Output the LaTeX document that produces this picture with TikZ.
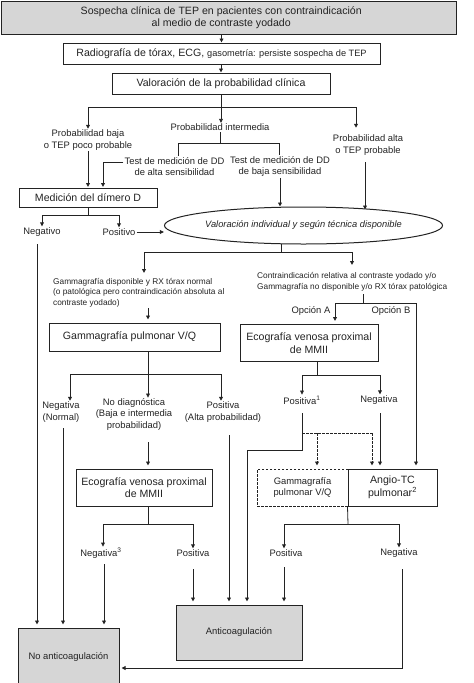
\documentclass[tikz,border=0pt]{standalone}
\usepackage{fontspec}
\setmainfont{Liberation Sans}
\usetikzlibrary{arrows.meta,shapes.geometric,calc}
\definecolor{boxgray}{RGB}{214,214,214}
\definecolor{linec}{RGB}{35,35,35}
\newcommand{\boxfont}{\fontsize{10.6}{12.6}\selectfont}
\newcommand{\lblfont}{\fontsize{9.4}{11.3}\selectfont}
\newcommand{\smallfnt}{\fontsize{8.3}{10.4}\selectfont}
\begin{document}
\begin{tikzpicture}[x=1pt,y=-1pt,
  every node/.style={text=linec},
  boxnode/.style={draw=linec,line width=1pt,align=center,font=\boxfont,inner sep=1pt},
  graybox/.style={boxnode,fill=boxgray},
  lbl/.style={align=center,font=\lblfont,inner sep=1pt},
  smalltxt/.style={align=left,font=\smallfnt,inner sep=2pt,anchor=north west},
  ln/.style={draw=linec,line width=0.8pt},
  arr/.style={ln,-{Triangle[length=4pt,width=3.8pt]}},
  arrbox/.style={arr,shorten >=3pt},
  darr/.style={arrbox,dashed,dash pattern=on 2.5pt off 1.5pt},
  dln/.style={ln,dashed,dash pattern=on 2.5pt off 1.5pt}]
\useasboundingbox (0,0) rectangle (474,683);

% boxes
\node[graybox,minimum width=455pt,minimum height=32.5pt] (top) at (228.75,17.75)
  {Sospecha clínica de TEP en pacientes con contraindicación\hspace*{15pt}\\al medio de contraste yodado\hspace*{15pt}};
\node[boxnode,minimum width=317pt,minimum height=21pt] (rad) at (221.5,53.5)
  {Radiografía de tórax, ECG, {\fontsize{9.2}{11}\selectfont gasometría: persiste sospecha de TEP}};
\node[boxnode,minimum width=218pt,minimum height=21pt] (val) at (221,83.5)
  {Valoración de la probabilidad clínica};

% probability labels
\node[lbl] (pb) at (88,140) {Probabilidad baja\\o TEP poco probable};
\node[lbl] (pi) at (220,127.5) {Probabilidad intermedia};
\node[lbl] (pa) at (368,145) {Probabilidad alta\\o TEP probable};
\node[lbl] (tda) at (174.5,166.5) {Test de medición de DD\\de alta sensibilidad};
\node[lbl] (tdb) at (280,166.5) {Test de medición de DD\\de baja sensibilidad};

\node[boxnode,minimum width=138pt,minimum height=19pt] (med) at (88,198) {Medición del dímero D};
\node[lbl] (neg1) at (42,232) {Negativo};
\node[lbl] (pos1) at (119,232) {Positivo};
\node[draw=linec,line width=1pt,ellipse,minimum width=237pt,minimum height=37pt,inner sep=0pt,
  font=\fontsize{9.3}{11}\selectfont\itshape] (ell) at (303.5,225.5)
  {Valoración individual y según técnica disponible};

% technique texts
\node[smalltxt] (gl) at (51,276)
  {Gammagrafía disponible y RX tórax normal\\(o patológica pero contraindicación absoluta al\\contraste yodado)};
\node[smalltxt] (gr) at (255,270.5)
  {Contraindicación relativa al contraste yodado y/o\\Gammagrafía no disponible y/o RX tórax patológica};
\node[lbl] (optA) at (311,311) {Opción A};
\node[lbl] (optB) at (391,311) {Opción B};

\node[boxnode,minimum width=171pt,minimum height=28pt] (gam) at (134.5,337)
  {Gammagrafía pulmonar V/Q\hspace*{10pt}};
\node[boxnode,minimum width=138pt,minimum height=37pt] (ecoR) at (309,343)
  {Ecografía venosa proximal\\de MMII};

\node[lbl] (negN) at (61,412) {Negativa\\(Normal)};
\node[lbl] (nod) at (134,414.5) {No diagnóstica\\(Baja e intermedia\\probabilidad)};
\node[lbl] (posA) at (223,412) {Positiva\\(Alta probabilidad)};
\node[lbl] (pos1R) at (302,400) {Positiva\textsuperscript{1}};
\node[lbl] (negR) at (379,400) {Negativa};

\node[boxnode,minimum width=136pt,minimum height=37pt] (ecoL) at (144,487.5)
  {Ecografía venosa proximal\\de MMII};
\node[boxnode,dashed,dash pattern=on 2.5pt off 1.5pt,minimum width=91pt,minimum height=37pt,font=\lblfont] (gpd) at (302.5,487.5)
  {Gammagrafía\\pulmonar V/Q};
\node[boxnode,minimum width=89pt,minimum height=37pt] (angio) at (392.5,487.5)
  {Angio-TC\\pulmonar\textsuperscript{2}};

\node[lbl] (neg3) at (101,553) {Negativa\textsuperscript{3}};
\node[lbl] (posL) at (193,553) {Positiva};
\node[lbl] (posR) at (286,553) {Positiva};
\node[lbl] (negR2) at (399,553) {Negativa};

\node[graybox,minimum width=126pt,minimum height=55pt,font=\lblfont] (anti) at (239,632.5) {Anticoagulación};
\node[graybox,minimum width=101pt,minimum height=58pt,font=\lblfont] (noac) at (68.5,657) {No anticoagulación};

% coordinates
\coordinate (jL) at (88,107);
\coordinate (jR) at (356,107);
\coordinate (bi) at (220,143);
\coordinate (bL) at (178,143);
\coordinate (bR) at (279,143);
\coordinate (t1) at (103,162);
\coordinate (jm) at (88,215);
\coordinate (n1) at (37,244);
\coordinate (pa1) at (365,162);
\coordinate (pa2) at (365,209.5);
\coordinate (e1) at (281,243.7);
\coordinate (je) at (281,252);
\coordinate (ga) at (144,273);
\coordinate (gb) at (352,265);
\coordinate (g1) at (148,308);
\coordinate (r1) at (363,294);
\coordinate (jr) at (363,303);
\coordinate (jA) at (335,303);
\coordinate (jB) at (416,303);
\coordinate (jg) at (148,374);
\coordinate (jg1) at (70,374);
\coordinate (jg3) at (221,374);
\coordinate (je2) at (317,375);
\coordinate (je2a) at (302,375);
\coordinate (je2b) at (380,375);
\coordinate (nn) at (63,428);
\coordinate (nd) at (148,442);
\coordinate (pA) at (229,435);
\coordinate (p1a) at (302,413);
\coordinate (p1b) at (302,433);
\coordinate (p1c) at (302,450);
\coordinate (p1d) at (247,450);
\coordinate (d1) at (317,433);
\coordinate (d2) at (372,433);
\coordinate (nr) at (380,413);
\coordinate (jl) at (148,524);
\coordinate (jl1) at (103,524);
\coordinate (jl2) at (193,524);
\coordinate (n3) at (104,564);
\coordinate (pl) at (193,569);
\coordinate (ja) at (348,524);
\coordinate (ja1) at (284,524);
\coordinate (ja2) at (399,524);
\coordinate (pr) at (284,567);
\coordinate (q1) at (402,569);
\coordinate (q2) at (402,668);

% connectors
\draw[arr] (top.south -| rad.north) -- (rad.north);
\draw[arr] (rad.south -| val.north) -- (val.north);
\draw[arr] (val.south) -- (val.south |- pi.north);
\draw[ln] (jL) -- (jR);
\draw[arr] (jL) -- (jL |- pb.north);
\draw[arr,shorten >=6pt] (jR) -- (jR |- pa.north);
\draw[ln] (pi.south) -- (bi);
\draw[ln] (bL |- tda.north) -- (bL) -- (bR) -- (bR |- tdb.north);
\draw[arr,shorten >=1pt] (tda.west |- t1) -- (t1) -- (t1 |- med.north);
\draw[arr,shorten >=1pt] (pb.south) -- (pb.south |- med.north);
\draw[arr] (tdb.south) -- (tdb.south |- ell.north);
\draw[arr] (pa1) -- (pa2);
\draw[ln] (med.south) -- (jm);
\draw[arr] (jm) -| (neg1.north);
\draw[arr] (jm) -| (pos1.north);
\draw[arr] (pos1.east) -- (pos1.east -| ell.west);
\draw[arrbox] (n1) -- (n1 |- noac.north);
\draw[ln] (e1) -- (je);
\draw[arr] (je) -| (ga);
\draw[arr] (je) -| (gb);
\draw[arrbox] (g1) -- (g1 |- gam.north);
\draw[ln] (r1) -- (jr);
\draw[ln] (jA) -- (jB);
\draw[arrbox] (jA) -- (jA |- ecoR.north);
\draw[arrbox] (jB) -- (jB |- angio.north);
\draw[ln] (gam.south -| jg) -- (jg);
\draw[ln] (jg1) -- (jg3);
\draw[arr] (jg1) -- (jg1 |- negN.north);
\draw[arr] (jg) -- (jg |- nod.north);
\draw[arr] (jg3) -- (jg3 |- posA.north);
\draw[ln] (ecoR.south -| je2) -- (je2);
\draw[ln] (je2a) -- (je2b);
\draw[arr] (je2a) -- (je2a |- pos1R.north);
\draw[arr] (je2b) -- (je2b |- negR.north);
\draw[arrbox] (nn) -- (nn |- noac.north);
\draw[arrbox] (nd) -- (nd |- ecoL.north);
\draw[arrbox] (pA) -- (pA |- anti.north);
\draw[arrbox] (p1a) -- (p1c) -- (p1d) -- (p1d |- anti.north);
\draw[dln] (p1b) -- (d2);
\draw[darr] (d1) -- (d1 |- gpd.north);
\draw[darr] (d2) -- (d2 |- angio.north);
\draw[arrbox] (nr) -- (nr |- angio.north);
\draw[ln] (ecoL.south -| jl) -- (jl);
\draw[ln] (jl1) -- (jl2);
\draw[arr] (jl1) -- (jl1 |- neg3.north);
\draw[arr] (jl2) -- (jl2 |- posL.north);
\draw[arrbox] (n3) -- (n3 |- noac.north);
\draw[arrbox] (pl) -- (pl |- anti.north);
\draw[ln] (angio.south west) -- (ja);
\draw[ln] (ja1) -- (ja2);
\draw[arr] (ja1) -- (ja1 |- posR.north);
\draw[arr] (ja2) -- (ja2 |- negR2.north);
\draw[arrbox] (pr) -- (pr |- anti.north);
\draw[arr,shorten >=2pt] (q1) -- (q2) -- (q2 -| noac.east);
\end{tikzpicture}
\end{document}
